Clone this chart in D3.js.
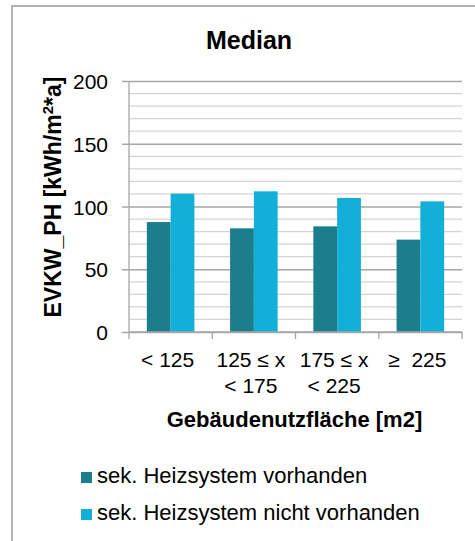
<!DOCTYPE html>
<html>
<head>
<meta charset="utf-8">
<script src="https://cdn.jsdelivr.net/npm/d3@7"></script>
<style>
  body { margin: 0; background: #fff; }
  svg { display: block; font-family: "Liberation Sans", Arial, sans-serif; }
  text { white-space: pre; }
</style>
</head>
<body>
<svg id="chart" width="475" height="541"></svg>
<script>
const categories = [["< 125"], ["125 ≤ x", "< 175"], ["175 ≤ x", "< 225"], ["≥  225"]];
const seriesNames = ["sek. Heizsystem vorhanden", "sek. Heizsystem nicht vorhanden"];
const seriesVorhanden = [87.6, 82.6, 84.2, 73.6];
const seriesNichtVorhanden = [110.2, 112.1, 106.8, 104.1];
const yTicks = [0, 50, 100, 150, 200];
const title = "Median";
const xTitle = "Gebäudenutzfläche [m2]";
const colors = ["#1c7e8d", "#12afd9"];

(function () {
const svg = d3.select("#chart");
const pLeft = 129, pRight = 462, pTop = 81, pBottom = 332;

// outer frame (cut off on right/bottom)
svg.append("rect").attr("x", 12).attr("y", 6).attr("width", 480).attr("height", 560)
  .attr("fill", "none").attr("stroke", "#b3b3b3").attr("stroke-width", 2);

const idx = d3.range(categories.length);
const x0 = d3.scaleBand().domain(idx).range([pLeft, pRight]).padding(0);
const bw = x0.bandwidth();
const pad = bw * 0.75 / 3.5;
const x1 = d3.scaleBand().domain([0, 1]).range([pad, bw - pad]).padding(0);
const y = d3.scaleLinear().domain([0, 200]).range([pBottom, pTop]);

// minor gridlines
const minor = d3.range(10, 201, 10).filter(v => v % 50 !== 0);
svg.append("g").selectAll("line").data(minor).join("line")
  .attr("x1", pLeft).attr("x2", pRight)
  .attr("y1", d => y(d)).attr("y2", d => y(d))
  .attr("stroke", "#d4d4d4").attr("stroke-width", 1.3);

// major gridlines
const yAxis = d3.axisLeft(y).tickValues(yTicks).tickSize(-(pRight - pLeft)).tickFormat(d3.format("d"));
const gy = svg.append("g").attr("transform", `translate(${pLeft},0)`).call(yAxis);
gy.select(".domain").remove();
gy.selectAll(".tick line").attr("stroke", "#a6a6a6").attr("stroke-width", 1.3)
  .attr("x1", -7);
gy.selectAll(".tick text").attr("font-size", 21).attr("fill", "#000")
  .attr("font-family", "Liberation Sans, Arial, sans-serif").attr("x", -21).attr("dy", "0.36em");

// bars
const series = [seriesVorhanden, seriesNichtVorhanden];
series.forEach((vals, s) => {
  svg.append("g").selectAll("rect").data(vals).join("rect")
    .attr("x", (d, i) => x0(i) + x1(s))
    .attr("width", x1.bandwidth())
    .attr("y", d => y(d))
    .attr("height", d => y(0) - y(d))
    .attr("fill", colors[s]);
});

// y axis line
svg.append("line").attr("x1", pLeft).attr("x2", pLeft).attr("y1", pTop).attr("y2", pBottom)
  .attr("stroke", "#a6a6a6").attr("stroke-width", 1.3);

// x axis
const xBoundaries = idx.map(i => x0(i)).concat([pRight]);
svg.append("line").attr("x1", pLeft).attr("x2", pRight).attr("y1", pBottom).attr("y2", pBottom)
  .attr("stroke", "#a6a6a6").attr("stroke-width", 1.3);
svg.append("g").selectAll("line").data(xBoundaries).join("line")
  .attr("x1", d => d).attr("x2", d => d).attr("y1", pBottom).attr("y2", pBottom + 7)
  .attr("stroke", "#a6a6a6").attr("stroke-width", 1.3);

// x tick labels
const xl = svg.append("g").attr("font-size", 21).attr("text-anchor", "middle").attr("fill", "#000");
categories.forEach((lines, i) => {
  const t = xl.append("text");
  lines.forEach((ln, j) => {
    t.append("tspan").attr("x", x0(i) + bw / 2 - 3).attr("y", 367 + j * 26).text(ln);
  });
});

// title
svg.append("text").attr("x", 249).attr("y", 49).attr("text-anchor", "middle")
  .attr("font-size", 25).attr("font-weight", "bold").text(title);

// x title
svg.append("text").attr("x", (pLeft + pRight) / 2 - 1).attr("y", 427).attr("text-anchor", "middle")
  .attr("font-size", 22).attr("font-weight", "bold").text(xTitle);

// y title
const yt = svg.append("text").attr("transform", "translate(61,197) rotate(-90)")
  .attr("text-anchor", "middle").attr("font-size", 23).attr("font-weight", "bold");
yt.append("tspan").text("EVKW_PH [kWh/m");
yt.append("tspan").attr("font-size", 15).attr("dy", -8).text("2");
yt.append("tspan").attr("dy", 8).text("*a]");

// legend
const lg = svg.append("g");
seriesNames.forEach((name, s) => {
  const yy = 472 + s * 37;
  lg.append("rect").attr("x", 81).attr("y", yy).attr("width", 11).attr("height", 11).attr("fill", colors[s]);
  lg.append("text").attr("x", 97).attr("y", yy + 11).attr("font-size", 22).attr("fill", "#000").text(name);
});
})();
</script>
</body>
</html>
